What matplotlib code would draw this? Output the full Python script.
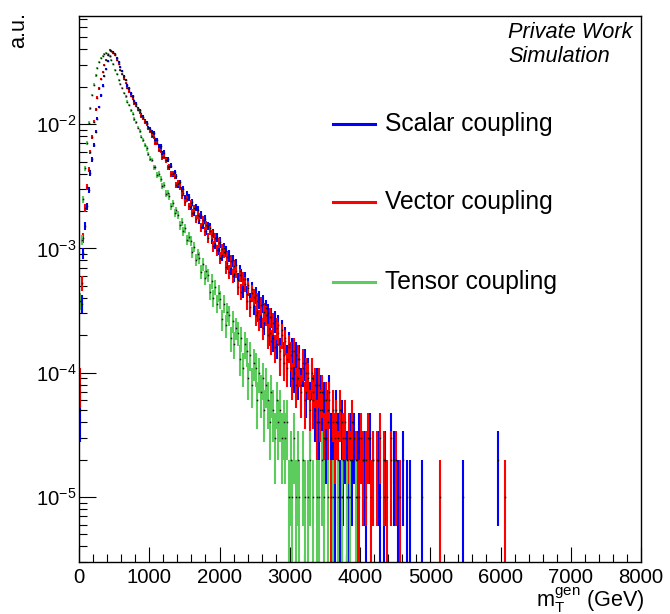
import numpy as np
import matplotlib
matplotlib.use("Agg")
import matplotlib.pyplot as plt
from matplotlib.lines import Line2D
from matplotlib.ticker import MultipleLocator, LogLocator, NullFormatter

# ---------------- data (event counts per 25 GeV bin) -------------
bin_width = 25.0          # GeV
x_range = (0, 8000)
event_weight = 1.0e-5     # a.u. per generated event

scalar_counts = [
    5, 36, 92, 152, 218, 296, 405, 522, 684, 871,
    1108, 1374, 1705, 2043, 2428, 2797, 3198, 3541, 3840, 3790,
    3652, 3409, 3157, 2866, 2655, 2419, 2262, 2051, 1938, 1767,
    1671, 1532, 1462, 1349, 1297, 1191, 1149, 1058, 1024, 941,
    915, 861, 847, 752, 748, 668, 661, 585, 590, 519,
    522, 452, 461, 398, 410, 381, 327, 340, 292, 301,
    254, 271, 259, 218, 236, 197, 214, 205, 169, 186,
    157, 171, 139, 152, 147, 120, 133, 109, 123, 98,
    112, 89, 101, 95, 76, 87, 69, 80, 62, 73,
    56, 66, 61, 47, 57, 43, 51, 38, 47, 35,
    42, 31, 39, 28, 36, 25, 33, 30, 21, 28,
    19, 26, 17, 24, 15, 22, 14, 19, 13, 17,
    11, 15, 10, 14, 9, 13, 8, 11, 12, 7,
    10, 6, 9, 7, 5, 8, 4, 7, 5, 6,
    3, 5, 7, 3, 4, 1, 5, 3, 1, 4,
    2, 3, 2, 1, 3, 2, 3, 0, 2, 3,
    0, 2, 2, 1, 0, 3, 0, 2, 0, 0,
    2, 1, 0, 1, 2, 0, 0, 3, 0, 2,
    0, 1, 0, 0, 2, 0, 1, 0, 1, 0,
]
scalar_tail_bins = [195, 218, 238]
scalar_tail_counts = [1, 1, 2]

vector_counts = [
    8, 53, 121, 212, 314, 431, 594, 786, 1046, 1312,
    1628, 1942, 2301, 2619, 3013, 3289, 3612, 3951, 3874, 3748,
    3571, 3296, 3035, 2731, 2524, 2301, 2149, 1958, 1832, 1684,
    1597, 1466, 1405, 1306, 1252, 1163, 1117, 1039, 996, 925,
    884, 801, 785, 709, 703, 622, 611, 540, 548, 512,
    449, 458, 397, 402, 378, 326, 336, 312, 268, 281,
    236, 252, 219, 231, 193, 211, 172, 186, 181, 149,
    168, 137, 154, 122, 139, 129, 104, 121, 97, 111,
    84, 99, 93, 71, 86, 65, 79, 60, 72, 66,
    49, 61, 45, 57, 52, 38, 48, 34, 44, 41,
    29, 38, 27, 35, 23, 31, 29, 20, 28, 18,
    25, 16, 23, 21, 13, 20, 12, 18, 11, 16,
    14, 9, 15, 8, 13, 11, 7, 12, 6, 10,
    9, 5, 10, 6, 8, 4, 8, 5, 7, 3,
    6, 4, 6, 1, 5, 3, 4, 2, 5, 1,
    3, 4, 1, 3, 2, 4, 0, 2, 1, 1,
    3, 2, 0, 2, 3, 0, 1, 2, 0, 2,
    0, 3, 0, 2, 0, 1, 0, 2, 0, 0,
    2, 0, 1, 0, 0, 0, 0, 0, 0, 0,
]
vector_tail_bins = [205, 242]
vector_tail_counts = [1, 1]

tensor_counts = [
    38, 117, 248, 441, 702, 1030, 1341, 1712, 2079, 2462,
    2805, 3171, 3379, 3561, 3660, 3728, 3655, 3561, 3296, 3034,
    2741, 2527, 2278, 2098, 1962, 1785, 1671, 1519, 1425, 1290,
    1214, 1098, 1031, 938, 880, 795, 748, 676, 638, 577,
    526, 515, 452, 449, 391, 396, 361, 318, 322, 276,
    281, 262, 219, 230, 193, 203, 186, 154, 164, 138,
    146, 117, 124, 115, 93, 103, 81, 90, 84, 65,
    75, 58, 66, 61, 45, 55, 40, 49, 36, 44,
    39, 27, 36, 24, 31, 29, 19, 26, 17, 23,
    21, 13, 19, 11, 17, 15, 9, 14, 8, 12,
    11, 6, 10, 7, 9, 5, 8, 6, 4, 7,
    5, 3, 6, 4, 5, 3, 4, 3, 4, 1,
    2, 1, 3, 1, 2, 1, 0, 2, 1, 0,
    1, 2, 0, 1, 0, 1, 1, 0, 2, 1,
    0, 1, 0, 0, 1, 0, 0, 1, 0, 1,
    0, 0, 1, 0, 1, 0, 0, 1,
]
tensor_tail_bins = []
tensor_tail_counts = []

series_labels = ["Scalar coupling", "Vector coupling", "Tensor coupling"]
series_colors = ["#0000ff", "#ff0000", "#5ccc5c"]

# ---------------- style ----------------
plt.rcParams['font.family'] = ['Liberation Sans', 'DejaVu Sans']
plt.rcParams['mathtext.fontset'] = 'custom'
plt.rcParams['mathtext.rm'] = 'Liberation Sans'
plt.rcParams['mathtext.it'] = 'Liberation Sans:italic'
plt.rcParams['mathtext.default'] = 'regular'

W, H = 670, 614
fig = plt.figure(figsize=(W / 100, H / 100), dpi=100)
ax = fig.add_axes([79 / W, 1 - 562 / H, (641 - 79) / W, (562 - 16) / H])
ax.set_yscale('log', nonpositive='clip')


def build(counts, tail_bins, tail_counts):
    c = np.zeros(int((x_range[1] - x_range[0]) / bin_width))
    c[:len(counts)] = counts
    for b, n in zip(tail_bins, tail_counts):
        c[b] = n
    return c


all_series = [
    build(scalar_counts, scalar_tail_bins, scalar_tail_counts),
    build(vector_counts, vector_tail_bins, vector_tail_counts),
    build(tensor_counts, tensor_tail_bins, tensor_tail_counts),
]

edges = np.arange(x_range[0], x_range[1] + bin_width, bin_width)
centers = 0.5 * (edges[:-1] + edges[1:])

for counts, color in zip(all_series, series_colors):
    m = counts > 0
    vals = counts[m] * event_weight
    errs = np.sqrt(counts[m]) * event_weight
    ax.errorbar(centers[m], vals, yerr=errs, xerr=bin_width / 2, fmt='none',
                ecolor=color, elinewidth=1.5, capsize=0, zorder=2)
    ax.plot(centers[m], vals, linestyle='none', marker='s', markersize=1.1,
            markeredgewidth=0, color='#111111', zorder=3)

ax.set_xlim(*x_range)
ax.set_ylim(3.0e-6, 0.0741)

ax.xaxis.set_major_locator(MultipleLocator(1000))
ax.xaxis.set_minor_locator(MultipleLocator(200))
ax.yaxis.set_major_locator(LogLocator(base=10, numticks=20))
ax.yaxis.set_minor_locator(LogLocator(base=10, subs=np.arange(2, 10), numticks=20))
ax.yaxis.set_minor_formatter(NullFormatter())

ax.tick_params(axis='both', which='both', direction='in', width=0.8, colors='black')
ax.tick_params(axis='x', which='major', length=11, pad=4, labelsize=14.7)
ax.tick_params(axis='x', which='minor', length=5.5)
ax.tick_params(axis='y', which='major', length=12, pad=2, labelsize=14.7)
ax.tick_params(axis='y', which='minor', length=6)
for s in ax.spines.values():
    s.set_linewidth(1.0)

# axis titles
fig.text(644 / W, 1 - 600 / H, r'$\mathrm{m}_{\mathrm{T}}^{\mathrm{gen}}$ (GeV)',
         ha='right', va='center', fontsize=15.6)
fig.text(19 / W, 1 - 12 / H, 'a.u.', rotation=90, ha='center', va='top', fontsize=15.6)

# annotation
fig.text(508 / W, 1 - 33 / H, 'Private Work', ha='left', va='center',
         fontsize=15.7, style='italic')
fig.text(508 / W, 1 - 57 / H, 'Simulation', ha='left', va='center',
         fontsize=15.7, style='italic')

# legend
for label, color, yp in zip(series_labels, series_colors, [124, 202, 282]):
    fig.add_artist(Line2D([333 / W, 375 / W], [1 - yp / H, 1 - yp / H],
                          color=color, linewidth=2.2, transform=fig.transFigure))
    fig.text(385 / W, 1 - yp / H, label, ha='left', va='center', fontsize=17.7)

fig.savefig('out.png', dpi=100)
